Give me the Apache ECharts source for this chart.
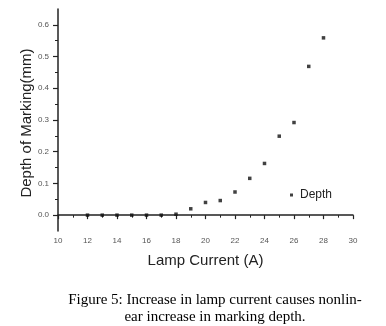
<!DOCTYPE html>
<html><head><meta charset="utf-8">
<script src="https://cdn.jsdelivr.net/npm/echarts@6/dist/echarts.min.js"></script>
<style>html,body{margin:0;padding:0;background:#fff}#c{width:386px;height:326px}</style>
</head><body><div id="c"></div>
<script>
const lampCurrent = [12,13,14,15,16,17,18,19,20,21,22,23,24,25,26,27,28];
const depth = [0,0,0,0,0,0,0.003,0.02,0.04,0.046,0.073,0.116,0.163,0.249,0.292,0.469,0.559];
const seriesName = 'Depth';
const xTitle = 'Lamp Current (A)';
const yTitle = 'Depth of Marking(mm)';
const yTickValues = [0, 0.1, 0.2, 0.3, 0.4, 0.5, 0.6];
const yMinorTickValues = [0.05, 0.15, 0.25, 0.35, 0.45, 0.55];
const caption = 'Figure 5: Increase in lamp current causes nonlin-\near increase in marking depth.';

const chart = echarts.init(document.getElementById('c'), null, {renderer:'canvas'});
const labelStyle = {color:'#555', fontSize:8, fontFamily:'Arial, Liberation Sans'};
const nameStyle = {color:'#222', fontSize:15, fontFamily:'Arial, Liberation Sans'};
chart.setOption({
  animation:false,
  backgroundColor:'#fff',
  grid:{left:58, right:33, top:9, bottom:95},
  title:{text:caption, left:210, top:287, textAlign:'center',
    textStyle:{fontFamily:'Liberation Serif, Times New Roman, serif', fontSize:15, fontWeight:'normal', color:'#000', lineHeight:17}},
  legend:{data:[seriesName], left:290, top:189, padding:0, icon:'rect', itemWidth:3, itemHeight:3,
    textStyle:{color:'#222', fontSize:12, fontFamily:'Arial, Liberation Sans', padding:[0,0,0,2]}},
  xAxis:{type:'value', min:10, max:30, interval:2, name:xTitle, nameLocation:'middle', nameGap:22,
    nameTextStyle:nameStyle,
    axisLine:{show:true, lineStyle:{color:'#222', width:1.5}},
    axisTick:{show:true, length:4, lineStyle:{color:'#222', width:1.2}},
    minorTick:{show:true, splitNumber:2, length:2.5, lineStyle:{color:'#222', width:1}},
    splitLine:{show:false},
    axisLabel:Object.assign({margin:6}, labelStyle)},
  yAxis:[{type:'value', min:-0.05, max:0.65, name:yTitle, nameLocation:'middle', nameGap:24, nameMoveOverlap:false,
    nameTextStyle:Object.assign({padding:[0,6,0,0]}, nameStyle),
    axisLine:{show:true, lineStyle:{color:'#222', width:1.5}},
    axisTick:{show:true, length:5, customValues:yTickValues, lineStyle:{color:'#222', width:1.2}},
    splitLine:{show:false},
    axisLabel:Object.assign({margin:9, customValues:yTickValues, formatter:function(v){return v.toFixed(1);}}, labelStyle)},
   {type:'value', min:-0.05, max:0.65, position:'left', offset:0,
    axisLine:{show:false},
    axisTick:{show:true, length:3, customValues:yMinorTickValues, lineStyle:{color:'#222', width:1}},
    splitLine:{show:false},
    axisLabel:{show:false}}],
  series:[{name:seriesName, type:'scatter', symbol:'rect', symbolSize:3.5,
    itemStyle:{color:'#111'}, data:lampCurrent.map((x,i)=>[x, depth[i]])}]
});
</script></body></html>
